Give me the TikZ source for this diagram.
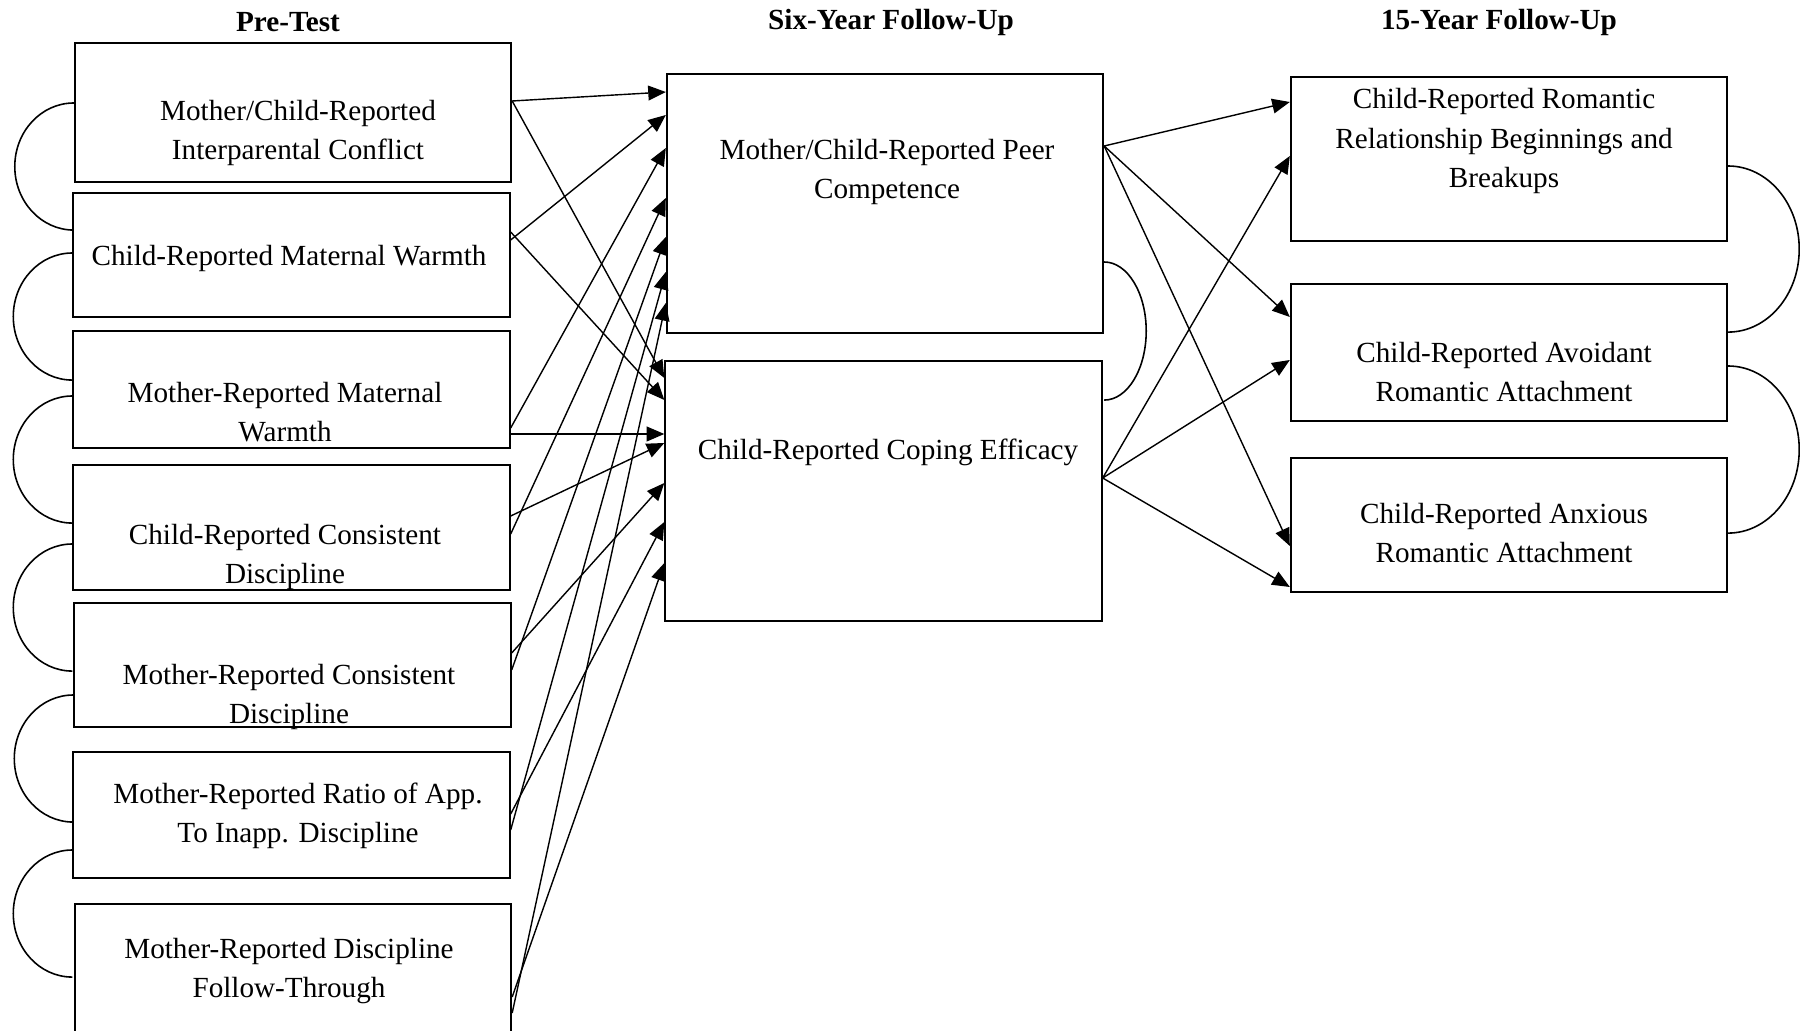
\documentclass[tikz,border=0pt]{standalone}
\usepackage{fontspec}
\setmainfont{Liberation Serif}
\usetikzlibrary{arrows.meta}

\begin{document}
\begin{tikzpicture}[x=0.01cm, y=-0.01cm,
    box/.style={draw, line width=0.6pt, inner sep=0pt, minimum width=4.36cm},
    txt/.style={align=center, inner sep=0pt, font=\fontsize{8.3}{11.1}\selectfont},
    head/.style={inner sep=0pt, font=\fontsize{8.3}{11.1}\selectfont\bfseries},
    link/.style={-{Triangle[length=5pt,width=4.2pt]}, line width=0.4pt},
    corr/.style={line width=0.45pt}]
    \useasboundingbox (0,0) rectangle (1800,1031);
    \clip (0,0) rectangle (1800,1031);
    % waves
    \node[head] (h1) at (288,22) {Pre-Test};
    \node[head] (h2) at (891,22) {Six-Year Follow-Up};
    \node[head] (h3) at (1499,22) {15-Year Follow-Up};
    % pre-test boxes
    \node[box, minimum height=1.39cm] (b1) at (293,112.5) {};
    \node[box, minimum height=1.24cm] (b2) at (291.5,255) {};
    \node[box, minimum height=1.17cm] (b3) at (291.5,389.5) {};
    \node[box, minimum height=1.25cm] (b4) at (291.5,527.5) {};
    \node[box, minimum height=1.24cm] (b5) at (292.5,665) {};
    \node[box, minimum height=1.26cm] (b6) at (291.5,815) {};
    \node[box, minimum height=1.46cm] (b7) at (293,977) {};
    \node[txt] (t1) at (298,133) {Mother/Child-Reported\\Interparental Conflict};
    \node[txt] (t2) at (289,258) {Child-Reported Maternal Warmth};
    \node[txt] (t3) at (285,412) {Mother-Reported Maternal\\Warmth};
    \node[txt] (t4) at (285,557) {Child-Reported Consistent\\Discipline};
    \node[txt] (t5) at (289,697) {Mother-Reported Consistent\\Discipline};
    \node[txt] (t6) at (298,816) {Mother-Reported Ratio of App.\\To Inapp. Discipline};
    \node[txt] (t7) at (289,971) {Mother-Reported Discipline\\Follow-Through};
    % six-year boxes
    \node[box, minimum height=2.59cm] (pc) at (885,203.5) {};
    \node[box, minimum height=2.60cm] (ce) at (883.5,491) {};
    \node[txt] (tpc) at (887,172) {Mother/Child-Reported Peer\\Competence};
    \node[txt] (tce) at (888,452) {Child-Reported Coping Efficacy};
    % 15-year boxes
    \node[box, minimum height=1.64cm] (rb) at (1509,159) {};
    \node[box, minimum height=1.37cm] (av) at (1509,352.5) {};
    \node[box, minimum height=1.34cm] (ax) at (1509,525) {};
    \node[txt] (trb) at (1504,141) {Child-Reported Romantic\\Relationship Beginnings and\\Breakups};
    \node[txt] (tav) at (1504,372) {Child-Reported Avoidant\\Romantic Attachment};
    \node[txt] (tax) at (1504,533) {Child-Reported Anxious\\Romantic Attachment};
    % paths pre-test -> six-year
    \foreach \s/\sy/\t/\ty in {b1/101/pc/92, b1/101/ce/378, b2/240/pc/115, b2/232/ce/400,
        b3/428/pc/148, b3/434/ce/434, b4/534/pc/198, b4/516/ce/443,
        b5/670/pc/237, b5/653/ce/483, b6/830/pc/272, b6/814/ce/522,
        b7/1013/pc/303, b7/997/ce/563} {
        \draw[link] (\s.east |- 0,\sy) -- (\t.west |- 0,\ty);
    }
    % paths six-year -> 15-year
    \foreach \t/\ty in {rb/102, av/317, ax/546} {
        \draw[link] (pc.east |- 0,146) -- (\t.west |- 0,\ty);
    }
    \foreach \t/\ty in {rb/156, av/360, ax/587} {
        \draw[link] (ce.east |- 0,478) -- (\t.west |- 0,\ty);
    }
    % correlations
    \foreach \b/\y in {b1/103, b2/253, b3/396, b4/544, b5/695, b6/850} {
        \draw[corr] (\b.west |- 0,\y) arc[start angle=90, end angle=270, x radius=0.59cm, y radius=0.635cm];
    }
    \draw[corr] (pc.east |- 0,262) arc[start angle=90, end angle=-90, x radius=0.42cm, y radius=0.69cm];
    \draw[corr] (rb.east |- 0,166) arc[start angle=90, end angle=-90, x radius=0.71cm, y radius=0.83cm];
    \draw[corr] (av.east |- 0,366) arc[start angle=90, end angle=-90, x radius=0.71cm, y radius=0.835cm];
\end{tikzpicture}
\end{document}
